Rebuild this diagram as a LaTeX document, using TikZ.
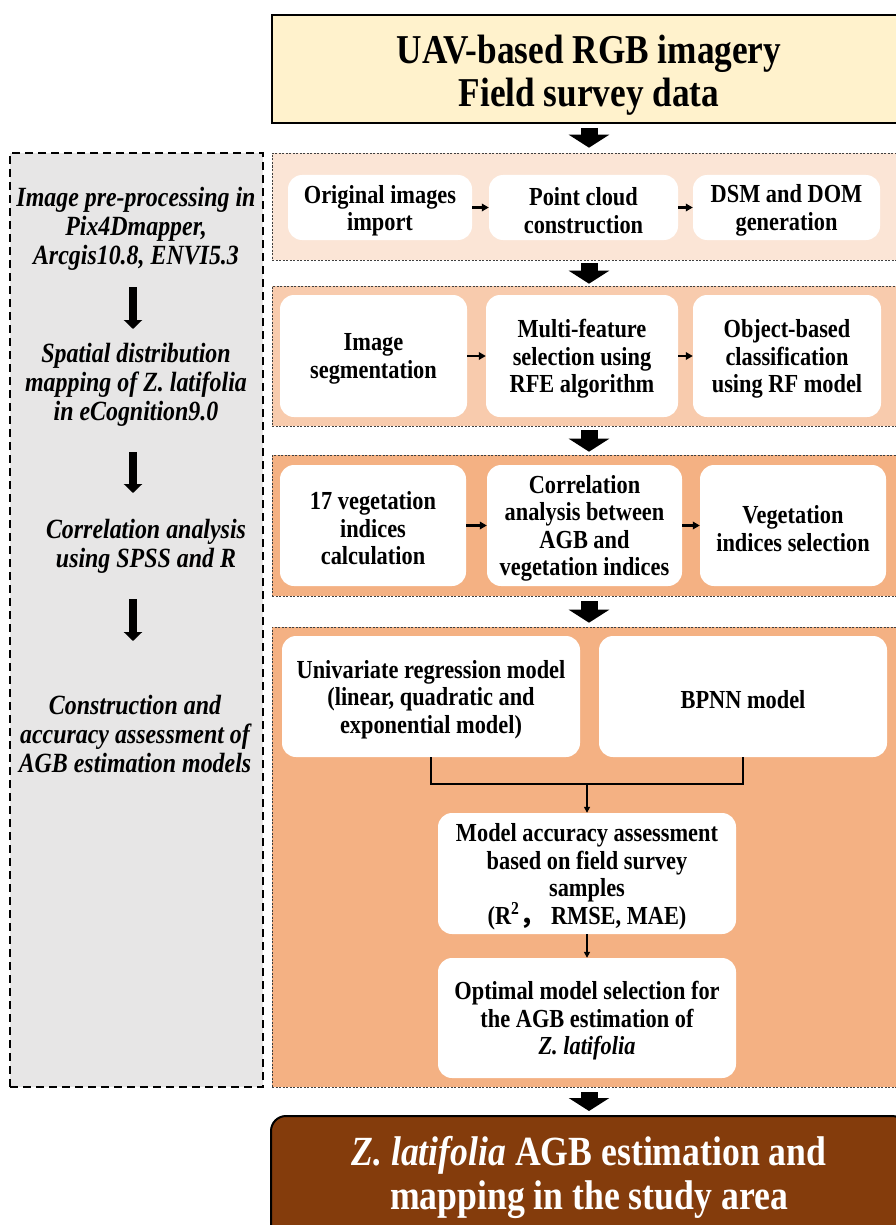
\documentclass[tikz,border=0pt]{standalone}
\usepackage{fontspec}
\setmainfont{Liberation Serif}[FakeStretch=0.86]
\newfontfamily\cjk{Noto Sans CJK SC}
\usetikzlibrary{arrows.meta}
\definecolor{topfill}{HTML}{FFF2CC}
\definecolor{pone}{HTML}{FBE5D6}
\definecolor{ptwo}{HTML}{F8CBAD}
\definecolor{pthree}{HTML}{F4B183}
\definecolor{brownfill}{HTML}{843C0C}
\definecolor{leftfill}{HTML}{E7E6E6}
\tikzset{
  panel/.style={fill=#1, draw=black!75, line width=0.6pt, dash pattern=on 2pt off 1.5pt, inner sep=0pt},
  wbox/.style={fill=white, rounded corners=14pt, inner sep=0pt},
  wtxt/.style={align=center, inner sep=0pt, yshift=-3pt,
    font=\fontsize{26}{27.5}\selectfont\bfseries},
  lefttext/.style={align=center, font=\fontsize{27.8}{29}\selectfont\bfseries\itshape},
  bigarrow/.style={line width=17pt, -{Triangle[length=13pt,width=40pt]}},
  leftarrow/.style={line width=8pt, -{Triangle[length=9pt,width=18pt]}},
  smallarrow/.style={line width=2.6pt, -{Triangle[length=7pt,width=7.5pt]}},
  thinarrow/.style={line width=1.6pt, -{Triangle[length=6pt,width=6pt]}},
}
\begin{document}
\begin{tikzpicture}[x=1pt,y=-1pt]
\useasboundingbox (0,0) rectangle (896,1225);
% left panel
\node[fill=leftfill, draw=black, line width=2.2pt, dash pattern=on 8pt off 5pt,
      minimum width=253pt, minimum height=934pt, inner sep=0pt] (left) at (136.5,620) {};
\node[lefttext] (l1) at (136,229) {Image pre-processing in\\Pix4Dmapper,\\Arcgis10.8, ENVI5.3};
\node[lefttext] (l2) at (136,385) {Spatial distribution\\mapping of Z. latifolia\\in eCognition9.0};
\node[lefttext] (l3) at (146,546) {Correlation analysis\\using SPSS and R};
\node[lefttext] (l4) at (135,734) {Construction and\\accuracy assessment of\\AGB estimation models};
\coordinate (la1s) at (133,287); \coordinate (la1e) at (133,329);
\coordinate (la2s) at (133,452); \coordinate (la2e) at (133,493);
\coordinate (la3s) at (133,599); \coordinate (la3e) at (133,641);
\draw[leftarrow] (la1s) -- (la1e);
\draw[leftarrow] (la2s) -- (la2e);
\draw[leftarrow] (la3s) -- (la3e);
% top box
\node[fill=topfill, draw=black, line width=2pt, minimum width=634pt, minimum height=108pt,
      inner sep=0pt] (top) at (589,69) {};
\node[align=center, font=\fontsize{41}{43}\selectfont\bfseries] (toptext) at (589,75)
      {UAV-based RGB imagery\\Field survey data};
% panels
\node[panel=pone, minimum width=628pt, minimum height=107pt] (p1) at (586,206.5) {};
\node[panel=ptwo, minimum width=628pt, minimum height=140pt] (p2) at (586,356) {};
\node[panel=pthree, minimum width=628pt, minimum height=141pt] (p3) at (586,525.5) {};
\node[panel=pthree, minimum width=628pt, minimum height=460pt] (p4) at (586,857) {};
% bottom box
\node[fill=brownfill, draw=black, line width=2pt, rounded corners=15pt,
      minimum width=636pt, minimum height=124pt, inner sep=0pt] (bottom) at (589,1178) {};
\node[text=white, align=center, font=\fontsize{41.5}{44}\selectfont\bfseries]
      (btext) at (589,1177) {\textit{Z. latifolia} AGB estimation and\\mapping in the study area};
% panel 1 boxes
\node[wbox, minimum width=184pt, minimum height=65pt, label={[wtxt]center:{Original images\\import}}] (b1) at (380,207.5) {};
\node[wbox, minimum width=189pt, minimum height=65pt, label={[wtxt]center:{Point cloud\\construction}}] (b2) at (583.5,207.5) {};
\node[wbox, minimum width=187pt, minimum height=65pt, label={[wtxt]center:{DSM and DOM\\generation}}] (b3) at (786.5,207.5) {};
% panel 2 boxes
\node[wbox, minimum width=187pt, minimum height=122pt, label={[wtxt]center:{Image\\segmentation}}] (c1) at (373.5,356) {};
\node[wbox, minimum width=192pt, minimum height=122pt, label={[wtxt]center:{Multi-feature\\selection using\\RFE algorithm}}] (c2) at (582,356) {};
\node[wbox, minimum width=188pt, minimum height=122pt, label={[wtxt]center:{Object-based\\classification\\using RF model}}] (c3) at (787,356) {};
% panel 3 boxes
\node[wbox, minimum width=186pt, minimum height=121pt, label={[wtxt]center:{17 vegetation\\indices\\calculation}}] (d1) at (373,525.5) {};
\node[wbox, minimum width=195pt, minimum height=121pt, label={[wtxt]center:{Correlation\\analysis between\\AGB and\\vegetation indices}}] (d2) at (584.5,525.5) {};
\node[wbox, minimum width=186pt, minimum height=121pt, label={[wtxt]center:{Vegetation\\indices selection}}] (d3) at (793,525.5) {};
% panel 4 boxes
\node[wbox, minimum width=298pt, minimum height=121pt, label={[wtxt]center:{Univariate regression model\\(linear, quadratic and\\exponential model)}}] (e1) at (431,696.5) {};
\node[wbox, minimum width=288pt, minimum height=121pt, label={[wtxt]center:{BPNN model}}] (e2) at (743,696.5) {};
\node[wbox, minimum width=298pt, minimum height=121pt, label={[wtxt]center:{Model accuracy assessment\\based on field survey\\samples\\(R\textsuperscript{2}{\cjk ，}\ RMSE, MAE)}}] (f) at (587,873.5) {};
\node[wbox, minimum width=298pt, minimum height=120pt, label={[wtxt]center:{Optimal model selection for\\the AGB estimation of\\\textit{Z. latifolia}}}] (g) at (587,1018) {};
% small arrows
\draw[smallarrow] (b1.east) -- (b2.west);
\draw[smallarrow] (b2.east) -- (b3.west);
\draw[smallarrow] (c1.east) -- (c2.west);
\draw[smallarrow] (c2.east) -- (c3.west);
\draw[smallarrow] (d1.east) -- (d2.west);
\draw[smallarrow] (d2.east) -- (d3.west);
% merge connector
\coordinate (merge) at (587,784);
\draw[line width=1.8pt] (e1.south) |- (merge) -| (e2.south);
\draw[thinarrow] (merge) -- (f.north);
\draw[thinarrow] (f.south) -- (g.north);
% big arrows
\coordinate (ax) at (589,0);
\draw[bigarrow, shorten <=4pt, shorten >=5pt] (ax |- top.south) -- (ax |- p1.north);
\draw[bigarrow, shorten <=3pt, shorten >=2pt] (ax |- p1.south) -- (ax |- p2.north);
\draw[bigarrow, shorten <=4pt, shorten >=3pt] (ax |- p2.south) -- (ax |- p3.north);
\draw[bigarrow, shorten <=5pt, shorten >=4pt] (ax |- p3.south) -- (ax |- p4.north);
\draw[bigarrow, shorten <=5pt, shorten >=4pt] (ax |- p4.south) -- (ax |- bottom.north);
\end{tikzpicture}
\end{document}
